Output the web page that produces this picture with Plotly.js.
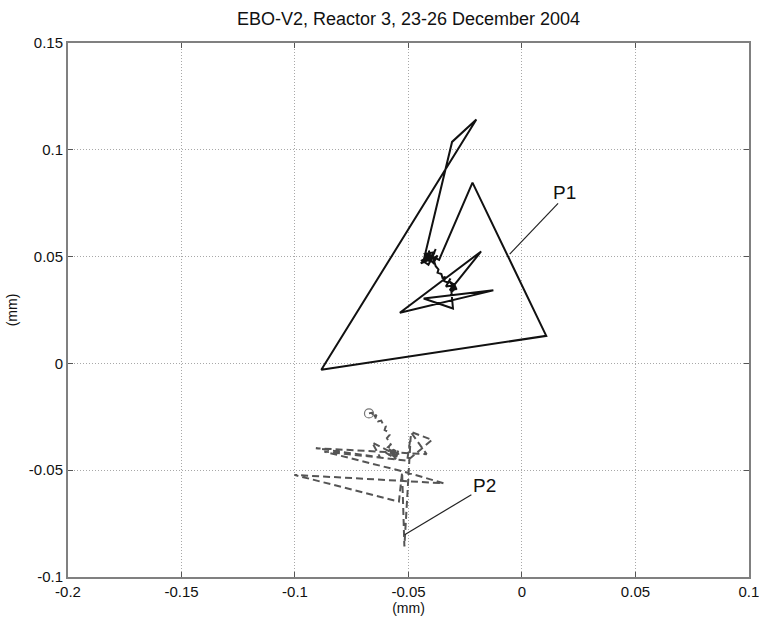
<!DOCTYPE html>
<html>
<head>
<meta charset="utf-8">
<script src="https://cdn.plot.ly/plotly-3.0.1.min.js"></script>
<style>html,body{margin:0;padding:0;background:#fff;}#chart{width:759px;height:617px;}</style>
</head>
<body>
<div id="chart"></div>
<script>
// Trajectory P1 (solid, black)
const p1X = [-0.0433, -0.0308, -0.0201, -0.0884, 0.0107, -0.0218, -0.0365,
  -0.0395, -0.0380, -0.0400, -0.0415, -0.0420, -0.0445, -0.0425, -0.0405, -0.0410, -0.0398, -0.0435, -0.0388, -0.0372, -0.0390,
  -0.0418, -0.0402, -0.0428, -0.0385, -0.0412, -0.0440, -0.0396,
  -0.0380, -0.0368, -0.0372, -0.0355, -0.0350, -0.0338, -0.0342,
  -0.0325, -0.0315, -0.0335, -0.0305, -0.0318, -0.0292, -0.0310, -0.0300, -0.0288, -0.0322, -0.0298,
  -0.0180, -0.0538, -0.0126, -0.0433, -0.0304, -0.0312, -0.0300];
const p1Y = [0.0483, 0.1037, 0.1142, -0.0030, 0.0129, 0.0846, 0.0485,
  0.0500, 0.0535, 0.0495, 0.0515, 0.0480, 0.0468, 0.0495, 0.0485, 0.0528, 0.0478, 0.0488, 0.0492, 0.0505, 0.0470,
  0.0502, 0.0472, 0.0512, 0.0520, 0.0462, 0.0482, 0.0508,
  0.0455, 0.0440, 0.0425, 0.0418, 0.0400, 0.0405, 0.0385,
  0.0378, 0.0398, 0.0360, 0.0365, 0.0342, 0.0352, 0.0335, 0.0375, 0.0345, 0.0385, 0.0368,
  0.0524, 0.0237, 0.0342, 0.0304, 0.0257, 0.0350, 0.0340];

// Trajectory P2 (dashed, grey)
const p2X = [-0.0674, -0.0655, -0.0662, -0.0641, -0.0648, -0.0634, -0.0620, -0.0612, -0.0600, -0.0605, -0.0590, -0.0583, -0.0595, -0.0585, -0.0578, -0.0590,
  -0.0570, -0.0560, -0.0590, -0.0545, -0.0560, -0.0580, -0.0550, -0.0575, -0.0540, -0.0565, -0.0600, -0.0555, -0.0585, -0.0548,
  -0.0660, -0.0625, -0.0908, -0.0420, -0.0491, -0.0396, -0.0505, -0.0871, -0.0520, -0.0345, -0.1003, -0.0542, -0.0528, -0.0518, -0.0490, -0.0505];
const p2Y = [-0.0234, -0.0230, -0.0250, -0.0241, -0.0262, -0.0272, -0.0268, -0.0285, -0.0295, -0.0312, -0.0320, -0.0335, -0.0350, -0.0365, -0.0380, -0.0392,
  -0.0400, -0.0425, -0.0428, -0.0410, -0.0445, -0.0412, -0.0435, -0.0440, -0.0420, -0.0405, -0.0418, -0.0448, -0.0402, -0.0432,
  -0.0370, -0.0440, -0.0397, -0.0425, -0.0320, -0.0358, -0.0455, -0.0413, -0.0507, -0.0561, -0.0522, -0.0647, -0.0510, -0.0857, -0.0340, -0.0450];

// Start point of P2
const p2StartX = [-0.0674];
const p2StartY = [-0.0234];

// Tick values and labels
const xTickVals = [-0.2, -0.15, -0.1, -0.05, 0, 0.05, 0.1];
const xTickText = ['-0.2', '-0.15', '-0.1', '-0.05', '0', '0.05', '0.1'];
const yTickVals = [-0.1, -0.05, 0, 0.05, 0.1, 0.15];
const yTickText = ['-0.1', '-0.05', '0', '0.05', '0.1', '0.15'];

// Labels with leader lines
const labelText = ['P1', 'P2'];
const labelX = [0.0188, -0.0164];
const labelY = [0.0800, -0.0570];
const leaderFromX = [0.0159, -0.0223];
const leaderFromY = [0.0749, -0.0615];
const leaderToX = [-0.0054, -0.0517];
const leaderToY = [0.0512, -0.0802];

const titleText = 'EBO-V2, Reactor 3, 23-26 December 2004';
const xTitle = '(mm)';
const yTitle = '(mm)';

const FONT = 'Arial, "Liberation Sans", sans-serif';

const traces = [
  {x: p1X, y: p1Y, type: 'scatter', mode: 'lines', line: {color: '#111111', width: 2}, hoverinfo: 'skip'},
  {x: p2X, y: p2Y, type: 'scatter', mode: 'lines', line: {color: '#555555', width: 2, dash: '7px,4px'}, hoverinfo: 'skip'},
  {x: p2StartX, y: p2StartY, type: 'scatter', mode: 'markers', marker: {symbol: 'circle-open', size: 9, color: '#777777', line: {width: 1.2}}, hoverinfo: 'skip'}
];

const annotations = labelText.map((t, i) => ({
  x: labelX[i], y: labelY[i], xref: 'x', yref: 'y', text: t, showarrow: false,
  font: {family: FONT, size: 19, color: '#111'}
}));

const shapes = labelText.map((t, i) => ({
  type: 'line', xref: 'x', yref: 'y',
  x0: leaderFromX[i], y0: leaderFromY[i], x1: leaderToX[i], y1: leaderToY[i],
  line: {color: '#222', width: 1.2}
}));

const axisCommon = {
  showline: true, linecolor: '#808080', linewidth: 2, mirror: 'ticks',
  ticks: 'inside', ticklen: 5, tickcolor: '#555', tickwidth: 1,
  showgrid: true, gridcolor: '#a8a8a8', griddash: '1px,2px', gridwidth: 1,
  zeroline: false, ticklabeloverflow: 'allow',
  tickfont: {family: FONT, size: 15, color: '#111'}
};

const layout = {
  width: 759, height: 617,
  margin: {l: 68, r: 10, t: 43, b: 40},
  paper_bgcolor: '#ffffff', plot_bgcolor: '#ffffff',
  showlegend: false,
  title: {text: titleText, font: {family: FONT, size: 18, color: '#111'}, x: 0.5, xref: 'paper', xanchor: 'center', y: 0.97, yref: 'container', yanchor: 'middle'},
  xaxis: Object.assign({}, axisCommon, {
    range: [-0.2, 0.10002], tickvals: xTickVals, ticktext: xTickText,
    title: {text: xTitle, font: {family: FONT, size: 14, color: '#111'}, standoff: 4}
  }),
  yaxis: Object.assign({}, axisCommon, {
    range: [-0.1, 0.15], tickvals: yTickVals, ticktext: yTickText,
    title: {text: yTitle, font: {family: FONT, size: 14, color: '#111'}, standoff: 8}
  }),
  annotations: annotations,
  shapes: shapes
};

Plotly.newPlot('chart', traces, layout, {staticPlot: true, displayModeBar: false});
</script>
</body>
</html>
